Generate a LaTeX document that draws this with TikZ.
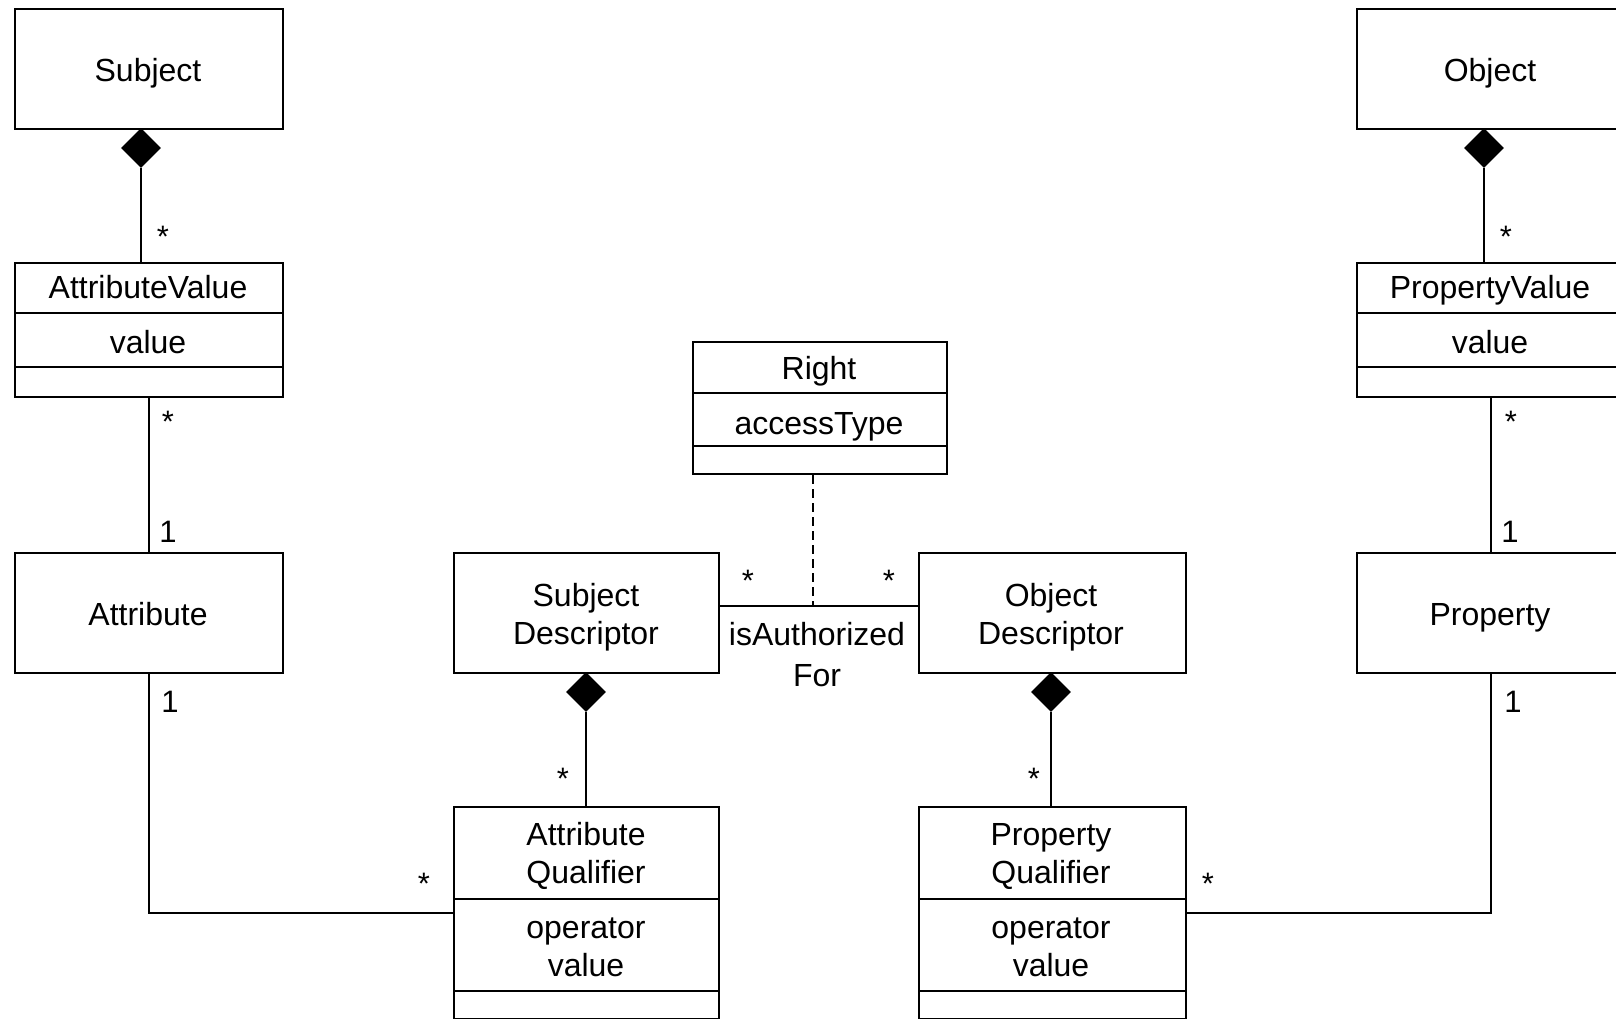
\documentclass[tikz,border=0pt]{standalone}
\usepackage{fontspec}
\setmainfont{Liberation Sans}
\usetikzlibrary{calc,shapes.geometric}

\tikzset{
  umlbox/.style={draw, line width=2pt, inner sep=0pt, anchor=north west},
  conn/.style={line width=2pt},
  comp/.style={diamond, fill=black, draw=none, inner sep=0pt,
               minimum width=40pt, minimum height=40pt},
  txt/.style={inner sep=0pt, anchor=base, font=\fontsize{32}{38}\selectfont},
  mult/.style={inner sep=0pt, anchor=base, font=\fontsize{31}{36}\selectfont},
}

% horizontal compartment divider inside a class box, at a given depth below its top
\newcommand{\compline}[2]{%
  \draw[conn] ($(#1.north west)+(0,#2)$) -- ($(#1.north east)+(0,#2)$);}

\begin{document}
\begin{tikzpicture}[x=1pt, y=-1pt]
\useasboundingbox (0,0) rectangle (1616,1019);
\clip (0,0) rectangle (1616,1019);

% ---- class boxes ----
\node[umlbox, minimum width=268pt, minimum height=120pt] (subject) at (14,8) {};
\node[umlbox, minimum width=268pt, minimum height=134pt] (av)      at (14,262) {};
\node[umlbox, minimum width=268pt, minimum height=120pt] (attr)    at (14,552) {};
\node[umlbox, minimum width=254pt, minimum height=132pt] (right)   at (692,341) {};
\node[umlbox, minimum width=265pt, minimum height=120pt] (sd)      at (453,552) {};
\node[umlbox, minimum width=267pt, minimum height=120pt] (od)      at (918,552) {};
\node[umlbox, minimum width=265pt, minimum height=212pt] (aq)      at (453,806) {};
\node[umlbox, minimum width=267pt, minimum height=212pt] (pq)      at (918,806) {};
\node[umlbox, minimum width=268pt, minimum height=120pt] (object)  at (1356,8) {};
\node[umlbox, minimum width=268pt, minimum height=134pt] (pv)      at (1356,262) {};
\node[umlbox, minimum width=268pt, minimum height=120pt] (prop)    at (1356,552) {};

% ---- compartments ----
\compline{av}{51}   \compline{av}{105}
\compline{pv}{51}   \compline{pv}{105}
\compline{right}{52} \compline{right}{105}
\compline{aq}{93}   \compline{aq}{185}
\compline{pq}{93}   \compline{pq}{185}

% ---- class texts ----
\node[txt] (t-subject) at (148,82) {Subject};
\node[txt] (t-av1) at (148,298) {AttributeValue};
\node[txt] (t-av2) at (148,353) {value};
\node[txt] (t-attr) at (148,625) {Attribute};
\node[txt] (t-right1) at (819,379) {Right};
\node[txt] (t-right2) at (819,434) {accessType};
\node[txt] (t-sd1) at (586,606) {Subject};
\node[txt] (t-sd2) at (586,644) {Descriptor};
\node[txt] (t-od1) at (1051,606) {Object};
\node[txt] (t-od2) at (1051,644) {Descriptor};
\node[txt] (t-aq1) at (586,845) {Attribute};
\node[txt] (t-aq2) at (586,883) {Qualifier};
\node[txt] (t-aq3) at (586,938) {operator};
\node[txt] (t-aq4) at (586,976) {value};
\node[txt] (t-pq1) at (1051,845) {Property};
\node[txt] (t-pq2) at (1051,883) {Qualifier};
\node[txt] (t-pq3) at (1051,938) {operator};
\node[txt] (t-pq4) at (1051,976) {value};
\node[txt] (t-object) at (1490,82) {Object};
\node[txt] (t-pv1) at (1490,298) {PropertyValue};
\node[txt] (t-pv2) at (1490,353) {value};
\node[txt] (t-prop) at (1490,625) {Property};

% ---- composition diamonds ----
\node[comp] (sdiam)  at (141,148) {};
\node[comp] (odiam)  at (1484,148) {};
\node[comp] (sddiam) at (586,692) {};
\node[comp] (oddiam) at (1051,692) {};

% ---- connectors ----
\draw[conn] (sdiam.south) -- (sdiam.south |- av.north);
\draw[conn] (odiam.south) -- (odiam.south |- pv.north);
\draw[conn] (av.south) -- (attr.north);
\draw[conn] (pv.south) -- (prop.north);
\draw[conn] (attr.south) |- (aq.west);
\draw[conn] (pq.east) -| (prop.south);
\draw[conn] (sddiam.south) -- (sddiam.south |- aq.north);
\draw[conn] (oddiam.south) -- (oddiam.south |- pq.north);

% association between descriptors, with its association class
\coordinate (assoc) at (813,606);
\draw[conn] (sd.east |- assoc) -- (od.west |- assoc);
\draw[conn, dash pattern=on 9pt off 5pt] (right.south -| assoc) -- (assoc);
\node[txt] (t-auth1) at (817,645) {isAuthorized};
\node[txt] (t-auth2) at (817,686) {For};

% ---- multiplicities ----
\node[mult] (m1)  at (163,247) {*};
\node[mult] (m2)  at (168,432) {*};
\node[mult] (m3)  at (168,542) {1};
\node[mult] (m4)  at (170,712) {1};
\node[mult] (m5)  at (424,894) {*};
\node[mult] (m6)  at (563,789) {*};
\node[mult] (m7)  at (748,591) {*};
\node[mult] (m8)  at (889,591) {*};
\node[mult] (m9)  at (1034,789) {*};
\node[mult] (m10) at (1208,894) {*};
\node[mult] (m11) at (1513,712) {1};
\node[mult] (m12) at (1510,542) {1};
\node[mult] (m13) at (1511,432) {*};
\node[mult] (m14) at (1506,247) {*};
\end{tikzpicture}
\end{document}
